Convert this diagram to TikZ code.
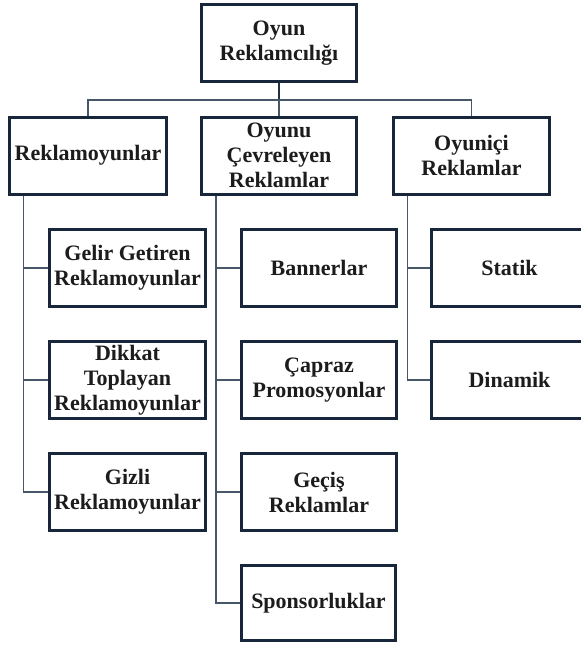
\documentclass[tikz,border=0pt]{standalone}
\usepackage{fontspec}
\setmainfont{Liberation Serif}
\definecolor{boxc}{RGB}{23,38,58}
\definecolor{connc}{RGB}{72,86,106}
\definecolor{txtc}{RGB}{28,28,28}
\begin{document}
\begin{tikzpicture}[x=1pt,y=-1pt,
  box/.style={draw=boxc, line width=3pt, fill=white, minimum width=156pt, minimum height=77pt,
    inner sep=0pt, align=center, text=txtc,
    font=\fontsize{22}{25}\selectfont\bfseries},
  conn/.style={draw=connc, line width=1.6pt},
  rootconn/.style={draw=boxc!80!connc, line width=2pt}]
\useasboundingbox (0,0) rectangle (581,646);
\clip (0,0) rectangle (581,646);
% root
\node[box, minimum width=155pt] (root) at (279,43) {Oyun\\Reklamcılığı};
% level 1
\node[box, minimum width=157pt] (A) at (88,155.5) {Reklamoyunlar};
\node[box, minimum width=155pt] (B) at (279,155.5) {Oyunu\\Çevreleyen\\Reklamlar};
\node[box] (C) at (471.5,155.5) {Oyuniçi\\Reklamlar};
% level 2 left
\node[box] (a1) at (127.5,268) {Gelir Getiren\\Reklamoyunlar};
\node[box] (a2) at (127.5,380) {Dikkat\\Toplayan\\Reklamoyunlar};
\node[box] (a3) at (127.5,492) {Gizli\\Reklamoyunlar};
% level 2 middle
\node[box, minimum width=155pt] (b1) at (319,268) {Bannerlar};
\node[box, minimum width=155pt] (b2) at (319,380) {Çapraz\\Promosyonlar};
\node[box, minimum width=155pt] (b3) at (319,492) {Geçiş\\Reklamlar};
\node[box, minimum width=154pt, minimum height=75pt] (b4) at (318.5,603) {Sponsorluklar};
% level 2 right
\node[box] (c1) at (509.5,268) {Statik};
\node[box] (c2) at (509.5,380) {Dinamik};
% bar
\coordinate (bar) at (279,100);
\draw[rootconn] (root.south) -- (bar);
\draw[conn] (A.north) |- (bar) -| (C.north);
\draw[conn] (bar) -- (B.north);
% children connectors
\draw[conn] ([xshift=15.5pt]A.south west) |- (a1.west);
\draw[conn] ([xshift=15.5pt]A.south west) |- (a2.west);
\draw[conn] ([xshift=15.5pt]A.south west) |- (a3.west);
\draw[conn] ([xshift=16pt]B.south west) |- (b1.west);
\draw[conn] ([xshift=16pt]B.south west) |- (b2.west);
\draw[conn] ([xshift=16pt]B.south west) |- (b3.west);
\draw[conn] ([xshift=16pt]B.south west) |- (b4.west);
\draw[conn] ([xshift=15.5pt]C.south west) |- (c1.west);
\draw[conn] ([xshift=15.5pt]C.south west) |- (c2.west);
\end{tikzpicture}
\end{document}
